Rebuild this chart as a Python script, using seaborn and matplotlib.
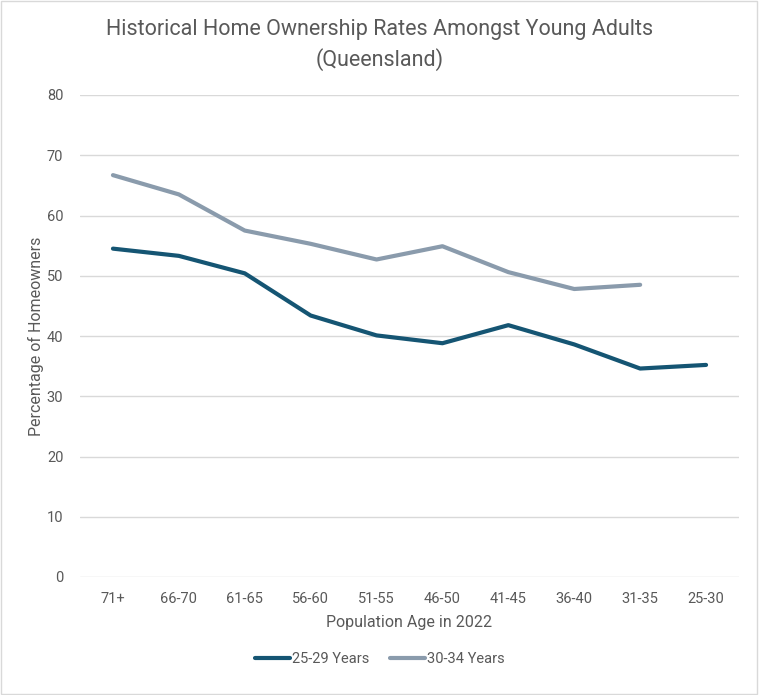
import matplotlib
matplotlib.use("Agg")
import matplotlib.pyplot as plt
import seaborn as sns
import pandas as pd
import numpy as np

categories = ["71+", "66-70", "61-65", "56-60", "51-55", "46-50", "41-45", "36-40", "31-35", "25-30"]
young_25_29 = [54.5, 53.3, 50.4, 43.4, 40.1, 38.8, 41.8, 38.6, 34.6, 35.2]
young_30_34 = [66.7, 63.5, 57.5, 55.3, 52.7, 54.9, 50.6, 47.8, 48.5, np.nan]
series_names = ["25-29 Years", "30-34 Years"]
colors = ["#155573", "#8A9BAC"]

sns.set_theme(style="white")
plt.rcParams['font.family'] = ['Roboto', 'DejaVu Sans']

df = pd.DataFrame({
    "Age": categories * 2,
    "Value": young_25_29 + young_30_34,
    "Series": [series_names[0]] * len(categories) + [series_names[1]] * len(categories),
})
df = df.dropna()

fig = plt.figure(figsize=(7.59, 6.95), dpi=100)
ax = fig.add_axes([80/759, 1-577/695, (739-80)/759, (577-95)/695])

sns.lineplot(data=df, x="Age", y="Value", hue="Series", palette=colors, sort=False,
             linewidth=3, ax=ax, legend=False)

ax.set_xlim(-0.5, len(categories) - 0.5)
ax.set_ylim(0, 80)
ax.set_yticks(range(0, 81, 10))
ax.set_xticks(range(len(categories)))
ax.set_xticklabels(categories)
ax.yaxis.grid(True, color="#D9D9D9", linewidth=1)
ax.xaxis.grid(False)
for s in ax.spines.values():
    s.set_visible(False)
ax.tick_params(axis="both", length=0, labelsize=10.5, colors="#595959")
ax.tick_params(axis="x", pad=11)
ax.tick_params(axis="y", pad=12)

ax.set_xlabel("Population Age in 2022", fontsize=11.5, color="#595959", labelpad=6)
ax.set_ylabel("Percentage of Homeowners", fontsize=11.5, color="#595959", labelpad=2)

fig.text(0.5, 1-30/695, "Historical Home Ownership Rates Amongst Young Adults",
         ha="center", va="center", fontsize=15.5, color="#595959")
fig.text(0.5, 1-60/695, "(Queensland)",
         ha="center", va="center", fontsize=15.5, color="#595959")

from matplotlib.lines import Line2D
handles = [Line2D([0], [0], color=c, linewidth=3) for c in colors]
fig.legend(handles, series_names, loc="center", bbox_to_anchor=(0.5, 1-659/695), ncol=2,
           frameon=False, fontsize=10.5, labelcolor="#595959", handlelength=2.4,
           handletextpad=0.15, columnspacing=1.4)

fig.patches.append(plt.Rectangle((0.001, 0.001), 0.997, 0.997, transform=fig.transFigure,
                                 fill=False, edgecolor="#D9D9D9", linewidth=1))

fig.savefig("out.png", dpi=100)
